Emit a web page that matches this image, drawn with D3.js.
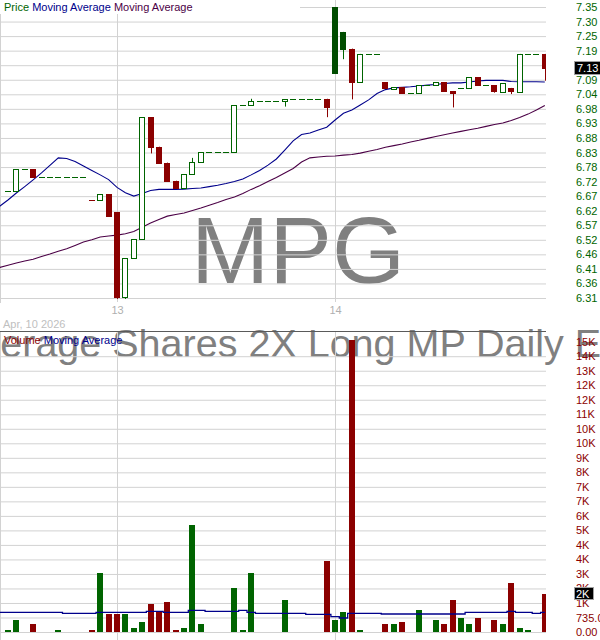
<!DOCTYPE html>
<html><head><meta charset="utf-8">
<script src="https://cdn.jsdelivr.net/npm/d3@7"></script>
<style>
html,body{margin:0;padding:0;background:#fff;}
svg{display:block;}
text{font-family:"Liberation Sans",Arial,sans-serif;}
</style></head><body>
<svg id="chart" width="600" height="640"></svg>
<script>
// ---- data (15-minute bars: last 13 of Apr 10, then Apr 13 and Apr 14) ----
const slots = d3.range(65);
const open  = [6.691,6.689,6.768,6.768,6.741,6.741,6.741,6.741,6.741,6.741,6.658,6.658,6.678,6.615,6.309,6.449,6.517,6.955,6.849,6.792,6.727,6.702,6.751,6.794,6.829,6.829,6.829,6.829,6.998,6.998,7.014,7.014,7.014,7.014,7.019,7.019,7.019,7.019,7.021,7.350,7.261,7.201,7.080,7.182,7.182,7.081,7.056,7.062,7.043,7.041,7.069,7.069,7.081,7.049,7.059,7.059,7.098,7.072,7.069,7.046,7.060,7.046,7.182,7.182,7.182];
const high  = [6.691,6.768,6.768,6.768,6.741,6.741,6.741,6.741,6.741,6.741,6.658,6.678,6.678,6.615,6.449,6.517,6.955,6.955,6.849,6.792,6.727,6.751,6.809,6.829,6.829,6.829,6.829,6.998,6.998,7.021,7.014,7.014,7.014,7.019,7.019,7.019,7.019,7.019,7.021,7.350,7.261,7.201,7.182,7.182,7.182,7.081,7.062,7.062,7.043,7.069,7.069,7.080,7.081,7.049,7.059,7.098,7.098,7.072,7.069,7.077,7.060,7.182,7.182,7.182,7.182];
const low   = [6.691,6.689,6.768,6.741,6.741,6.741,6.741,6.741,6.741,6.741,6.658,6.658,6.602,6.303,6.303,6.449,6.517,6.825,6.792,6.727,6.702,6.702,6.751,6.794,6.829,6.829,6.829,6.829,6.998,6.998,7.014,7.014,7.014,6.993,7.019,7.019,7.019,7.019,6.955,7.115,7.163,7.019,7.080,7.182,7.182,7.061,7.056,7.043,7.043,7.041,7.069,7.069,7.050,6.990,7.059,7.059,7.072,7.072,7.043,7.046,7.038,7.046,7.182,7.182,7.086];
const close = [6.691,6.768,6.768,6.741,6.741,6.741,6.741,6.741,6.741,6.741,6.658,6.678,6.602,6.311,6.449,6.517,6.955,6.849,6.792,6.727,6.702,6.751,6.794,6.829,6.829,6.829,6.829,6.998,6.998,7.014,7.014,7.014,7.014,7.019,7.019,7.019,7.019,7.019,6.990,7.115,7.201,7.082,7.182,7.182,7.182,7.061,7.062,7.043,7.043,7.069,7.069,7.080,7.050,7.043,7.059,7.098,7.072,7.072,7.050,7.077,7.050,7.182,7.182,7.182,7.131];
const volume = [100,600,0,400,0,0,100,0,0,0,100,2990,910,910,910,200,510,1420,1060,1520,100,200,5420,400,0,0,0,2230,100,2990,0,0,0,1620,0,0,0,0,3590,610,1010,14780,100,0,0,400,400,510,0,1110,0,610,400,1620,710,400,710,0,610,400,2480,200,100,0,1920];
// moving averages, slots -1 .. 64
const maSlots = d3.range(-1, 65);
const maShort = [6.635,6.658,6.683,6.706,6.730,6.755,6.782,6.809,6.807,6.796,6.780,6.764,6.748,6.731,6.703,6.684,6.672,6.681,6.692,6.696,6.696,6.696,6.697,6.699,6.701,6.706,6.711,6.717,6.724,6.733,6.748,6.764,6.783,6.805,6.837,6.870,6.893,6.898,6.909,6.919,6.945,6.969,6.981,6.999,7.017,7.040,7.054,7.060,7.062,7.064,7.067,7.070,7.072,7.076,7.078,7.078,7.081,7.085,7.087,7.087,7.087,7.083,7.082,7.082,7.082,7.081];
const maLong  = [6.416,6.424,6.432,6.439,6.445,6.455,6.464,6.474,6.483,6.495,6.507,6.515,6.525,6.529,6.532,6.537,6.545,6.560,6.575,6.588,6.600,6.606,6.611,6.620,6.629,6.639,6.649,6.660,6.669,6.681,6.696,6.709,6.724,6.739,6.755,6.771,6.794,6.809,6.812,6.815,6.816,6.819,6.821,6.826,6.833,6.839,6.847,6.853,6.859,6.866,6.872,6.879,6.886,6.892,6.898,6.904,6.910,6.915,6.922,6.929,6.934,6.943,6.954,6.966,6.981,6.997];
const volMA = [998,998,998,998,998,998,998,998,947,947,947,947,998,998,998,998,998,998,1048,1048,998,998,998,1099,1099,1048,1048,1048,1048,1099,998,947,947,947,947,947,947,896,896,896,775,709,947,947,947,947,912,912,912,912,912,912,912,912,912,912,998,998,998,998,998,1048,998,998,947,998];
const priceTickLabels = ["6.31","6.36","6.41","6.46","6.52","6.57","6.62","6.67","6.72","6.78","6.83","6.88","6.93","6.98","7.04","7.09","7.14","7.19","7.25","7.30","7.35"];
const volTickLabels = ["0.00","735.0","1K","2K","3K","4K","4K","5K","6K","7K","7K","8K","9K","10K","10K","11K","12K","12K","13K","14K","15K"];
const daySlots = [13, 39];
const dayLabels = ["13", "14"];
const dateLabel = "Apr, 10 2026";
const symbol = "MPG";
const fundName = "Leverage Shares 2X Long MP Daily ETF";

// ---- setup ----
const GREEN = "#006400", GREEN_FILL = "#004d00", RED = "#8b0000", BLUE = "#00008b", PURPLE = "#4b0046";
const GRID = "#d2d2d2";
const PLOT_R = 546;
const svg = d3.select("#chart");
const x = d3.scaleLinear().domain([0, 64]).range([7.96, 544.8]);
const priceMin = 6.3063, priceStep = 0.0522;
const priceTicks = priceTickLabels.map((_, i) => priceMin + i * priceStep);
const yP = d3.scaleLinear().domain([priceTicks[0], priceTicks[20]]).range([298, 7]);
const volTicks = volTickLabels.map((_, i) => i * 735);
const yV = d3.scaleLinear().domain([0, 14700]).range([632, 341.7]);

const defs = svg.append("defs");
defs.append("clipPath").attr("id", "clipP").append("rect").attr("x", 0).attr("y", 0).attr("width", PLOT_R).attr("height", 303);
defs.append("clipPath").attr("id", "clipV").append("rect").attr("x", 0).attr("y", 332).attr("width", PLOT_R).attr("height", 308);

// ---- watermarks ----
svg.append("text").attr("x", 298).attr("y", 283).attr("text-anchor", "middle")
  .attr("font-family", "DejaVu Sans").attr("font-size", 94).attr("fill", "#808080").text(symbol);
svg.append("text").attr("x", 293).attr("y", 357).attr("text-anchor", "middle")
  .attr("font-family", "DejaVu Sans").attr("font-size", 39.5).attr("fill", "#808080").text(fundName);

// ---- price panel grid ----
svg.append("g").call(d3.axisLeft(yP).tickValues(priceTicks).tickSize(-PLOT_R).tickFormat(""))
  .call(g => g.select(".domain").remove())
  .call(g => g.selectAll("line").attr("stroke", GRID));
svg.append("g").selectAll("line").data(daySlots).join("line")
  .attr("x1", d => Math.round(x(d)) + 0.5).attr("x2", d => Math.round(x(d)) + 0.5)
  .attr("y1", 0).attr("y2", 302).attr("stroke", GRID);
svg.append("line").attr("x1", 0.5).attr("x2", 0.5).attr("y1", 0).attr("y2", 303).attr("stroke", GRID);

// legend bg + legend
svg.append("rect").attr("x", 0).attr("y", 0).attr("width", 300).attr("height", 14).attr("fill", "#fff");
const lg = svg.append("text").attr("x", 4).attr("y", 7).attr("dy", "0.35em").attr("font-size", 11).style("white-space", "pre");
lg.append("tspan").attr("fill", GREEN).text("Price ");
lg.append("tspan").attr("fill", BLUE).text("Moving Average ");
lg.append("tspan").attr("fill", PURPLE).text("Moving Average");

// moving averages
const maLine = arr => d3.line().x((d, i) => x(maSlots[i])).y(d => yP(d))(arr);
const maG = svg.append("g").attr("clip-path", "url(#clipP)");
maG.append("path").attr("d", maLine(maLong)).attr("fill", "none").attr("stroke", PURPLE).attr("stroke-width", 1.1);
maG.append("path").attr("d", maLine(maShort)).attr("fill", "none").attr("stroke", BLUE).attr("stroke-width", 1.1);

// candles
const data = slots.map(i => ({ i, o: open[i], h: high[i], l: low[i], c: close[i], v: volume[i], prev: i > 0 ? close[i - 1] : close[i] }));
data.forEach(d => { d.up = d.c >= d.prev - 1e-9; d.color = d.up ? GREEN : RED; });
const cg = svg.append("g").attr("clip-path", "url(#clipP)");
data.forEach(d => {
  const cx = Math.round(x(d.i));
  const yo = yP(d.o), yc = yP(d.c), yh = yP(d.h), yl = yP(d.l);
  if (yl - yh > 0.8) {
    cg.append("line").attr("x1", cx + 0.5).attr("x2", cx + 0.5).attr("y1", yh).attr("y2", yl).attr("stroke", d.color);
  }
  if (Math.abs(yo - yc) < 0.6) {
    const yy = Math.round(yc) + 0.5;
    cg.append("line").attr("x1", cx - 3).attr("x2", cx + 3).attr("y1", yy).attr("y2", yy).attr("stroke", d.color);
  } else if (d.c > d.o) {
    const t = Math.min(yo, yc), b = Math.max(yo, yc);
    cg.append("rect").attr("x", cx - 2.5).attr("y", Math.round(t) + 0.5).attr("width", 5)
      .attr("height", Math.max(1, Math.round(b) - Math.round(t))).attr("fill", "#fff").attr("stroke", d.color);
  } else {
    const t = Math.min(yo, yc), b = Math.max(yo, yc);
    cg.append("rect").attr("x", cx - 3).attr("y", Math.round(t)).attr("width", 6)
      .attr("height", Math.max(1, Math.round(b) - Math.round(t) + 1)).attr("fill", d.up ? GREEN_FILL : RED);
  }
});

// price axis labels
svg.append("g").attr("transform", "translate(576,0)")
  .call(d3.axisRight(yP).tickValues(priceTicks).tickFormat((d, i) => priceTickLabels[i]).tickSize(0).tickPadding(0))
  .call(g => g.select(".domain").remove())
  .attr("font-family", "Liberation Sans, Arial, sans-serif").attr("font-size", 11)
  .call(g => g.selectAll("text").attr("fill", GREEN));
const last = data[data.length - 1];
const lastY = yP(last.c);
svg.append("rect").attr("x", 574.5).attr("y", Math.round(lastY) - 6.5).attr("width", 27).attr("height", 13)
  .attr("fill", "#000").attr("stroke", "#a0a0a0");
svg.append("text").attr("x", 577).attr("y", lastY).attr("dy", "0.35em").attr("font-size", 11).attr("fill", "#fff")
  .text(d3.format(".2f")(last.c));

// x labels
svg.append("g").attr("transform", "translate(0,303)")
  .call(d3.axisBottom(x).tickValues(daySlots).tickFormat((d, i) => dayLabels[i]).tickSize(0).tickPadding(3))
  .call(g => g.select(".domain").remove())
  .attr("font-family", "Liberation Sans, Arial, sans-serif").attr("font-size", 11)
  .call(g => g.selectAll("text").attr("fill", "#b0b0b0"));
svg.append("text").attr("x", 3).attr("y", 324).attr("dy", "0.35em").attr("font-size", 11).attr("fill", "#c0c0c0").text(dateLabel);

// ---- volume panel ----
svg.append("g").call(d3.axisLeft(yV).tickValues(volTicks.slice(0, 20)).tickSize(-PLOT_R).tickFormat(""))
  .call(g => g.select(".domain").remove())
  .call(g => g.selectAll("line").attr("stroke", GRID));
svg.append("g").selectAll("line").data(daySlots).join("line")
  .attr("x1", d => Math.round(x(d)) + 0.5).attr("x2", d => Math.round(x(d)) + 0.5)
  .attr("y1", 332).attr("y2", 640).attr("stroke", GRID);
svg.append("line").attr("x1", 0.5).attr("x2", 0.5).attr("y1", 332).attr("y2", 640).attr("stroke", GRID);
svg.append("line").attr("x1", 0).attr("x2", PLOT_R).attr("y1", 331.5).attr("y2", 331.5).attr("stroke", "#5a5a5a");

const vg = svg.append("g").attr("clip-path", "url(#clipV)");
vg.selectAll("rect").data(data.filter(d => d.v > 0)).join("rect")
  .attr("x", d => Math.round(x(d.i)) - 3).attr("width", 6)
  .attr("y", d => Math.round(yV(d.v))).attr("height", d => 632 - Math.round(yV(d.v)))
  .attr("fill", d => d.color);
vg.append("path").attr("d", d3.line().curve(d3.curveStep).x((d, i) => x(maSlots[i])).y(d => yV(d))(volMA))
  .attr("fill", "none").attr("stroke", BLUE).attr("stroke-width", 1.3);

const vlg = svg.append("text").attr("x", 4).attr("y", 340).attr("dy", "0.35em").attr("font-size", 11).style("white-space", "pre");
vlg.append("tspan").attr("fill", RED).text("Volume ");
vlg.append("tspan").attr("fill", BLUE).text("Moving Average");

svg.append("g").attr("transform", "translate(576,0)")
  .call(d3.axisRight(yV).tickValues(volTicks).tickFormat((d, i) => volTickLabels[i]).tickSize(0).tickPadding(0))
  .call(g => g.select(".domain").remove())
  .attr("font-family", "Liberation Sans, Arial, sans-serif").attr("font-size", 11)
  .call(g => g.selectAll("text").attr("fill", RED));
const lastVY = yV(last.v);
svg.append("rect").attr("x", 574.5).attr("y", Math.round(lastVY) - 6.5).attr("width", 19).attr("height", 12)
  .attr("fill", "#000").attr("stroke", "#a0a0a0");
svg.append("text").attr("x", 576).attr("y", lastVY).attr("dy", "0.35em").attr("font-size", 11).attr("fill", "#fff")
  .text(Math.round(last.v / 1000) + "K");
</script>
</body></html>
